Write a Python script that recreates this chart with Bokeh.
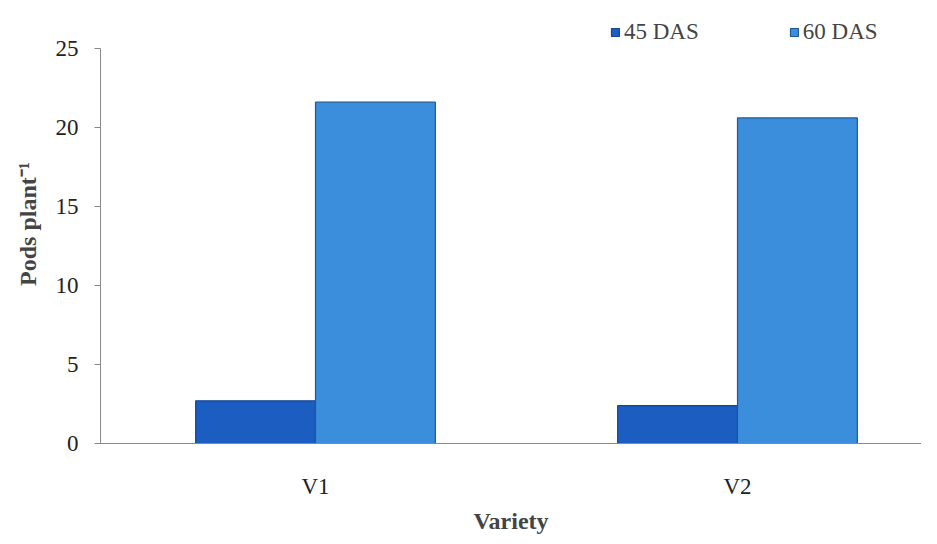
from bokeh.plotting import figure
from bokeh.models import ColumnDataSource, Range1d, Legend, LegendItem, FixedTicker
from bokeh.embed import file_html
from bokeh.resources import INLINE

varieties = ["V1", "V2"]
das45 = [2.7, 2.4]
das60 = [21.6, 20.6]
series_names = ["45 DAS", "60 DAS"]
y_ticks = [0, 5, 10, 15, 20, 25]

bw = 0.284
xpos = [i + 0.5 for i in range(len(varieties))]
src = ColumnDataSource(dict(x45=[x - bw / 2 for x in xpos], x60=[x + bw / 2 for x in xpos],
                            d45=das45, d60=das60))

p = figure(x_range=Range1d(-0.0095, 1.936), y_range=Range1d(0, 27.78),
           width=921, height=536, output_backend="svg", toolbar_location=None,
           min_border_top=4, min_border_left=100, min_border_right=0, min_border_bottom=93)
p.outline_line_color = None
p.xgrid.grid_line_color = None
p.ygrid.grid_line_color = None

r1 = p.vbar(x="x45", top="d45", width=bw, source=src,
            fill_color="#1c5dc2", line_color="#15468f", line_width=1.2)
r2 = p.vbar(x="x60", top="d60", width=bw, source=src,
            fill_color="#3a8edb", line_color="#1d5a98", line_width=1.2)

font = "Liberation Serif"
p.yaxis.ticker = FixedTicker(ticks=y_ticks)
p.yaxis.bounds = (0, 25)
p.yaxis.axis_label = "Pods plant\u207b\u00b9"
p.yaxis.axis_label_text_font = font
p.yaxis.axis_label_text_font_style = "bold"
p.yaxis.axis_label_text_font_size = "24px"
p.yaxis.axis_label_standoff = 12
p.yaxis.major_label_text_font = font
p.yaxis.major_label_text_font_size = "23px"
p.yaxis.major_label_text_color = "#222222"
p.yaxis.major_label_standoff = 16
p.yaxis.axis_line_color = "#888888"
p.yaxis.major_tick_line_color = "#888888"
p.yaxis.major_tick_out = 6
p.yaxis.major_tick_in = 0
p.yaxis.minor_tick_line_color = None

p.xaxis.ticker = FixedTicker(ticks=xpos)
p.xaxis.major_label_overrides = {x: v for x, v in zip(xpos, varieties)}
p.xaxis.axis_label = "Variety"
p.xaxis.axis_label_text_font = font
p.xaxis.axis_label_text_font_style = "bold"
p.xaxis.axis_label_text_font_size = "24px"
p.xaxis.axis_label_standoff = 6
p.xaxis.major_label_text_font = font
p.xaxis.major_label_text_font_size = "23px"
p.xaxis.major_label_text_color = "#222222"
p.xaxis.major_label_standoff = 24
p.xaxis.axis_line_color = "#888888"
p.xaxis.major_tick_line_color = None
p.xaxis.minor_tick_line_color = None

legend = Legend(items=[LegendItem(label=series_names[0], renderers=[r1]),
                       LegendItem(label=series_names[1], renderers=[r2])],
                orientation="horizontal", location=(510, 398),
                label_text_font=font, label_text_font_size="23px",
                glyph_width=10, glyph_height=10, spacing=90, label_standoff=4,
                background_fill_alpha=0, border_line_color=None, padding=0, margin=0)
p.add_layout(legend)

open("out.html", "w").write(file_html(p, INLINE))
